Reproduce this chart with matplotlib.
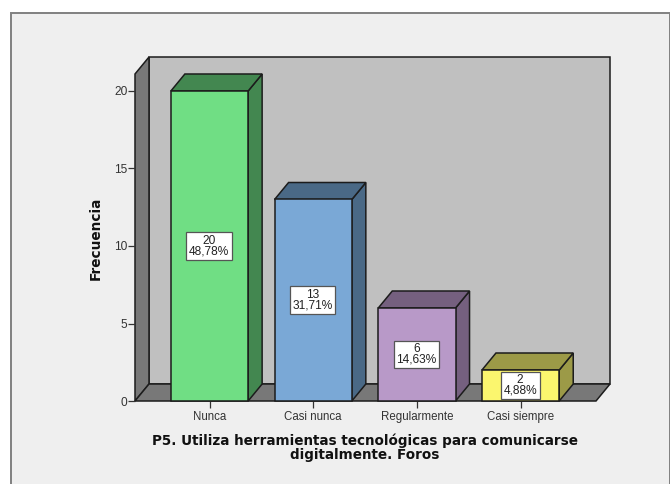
import matplotlib
matplotlib.use("Agg")
import matplotlib.pyplot as plt
from matplotlib.patches import Polygon, Rectangle

categories = ["Nunca", "Casi nunca", "Regularmente", "Casi siempre"]
counts = [20, 13, 6, 2]
percents = ["48,78%", "31,71%", "14,63%", "4,88%"]
front_colors = ["#70de84", "#7aa8d6", "#b899c8", "#fbf66e"]
top_colors = ["#438750", "#4a6986", "#75607f", "#9c9a47"]
side_colors = ["#438750", "#4a6986", "#75607f", "#9c9a47"]
y_ticks = [0, 5, 10, 15, 20]
title = "P5. Utiliza herramientas tecnológicas para comunicarse\ndigitalmente. Foros"

W, H = 670, 484
plt.rcParams["font.family"] = ["Liberation Sans", "DejaVu Sans"]
fig = plt.figure(figsize=(W / 100, H / 100), dpi=100, facecolor="white")

# outer panel
fig.add_artist(Rectangle((11 / W, -0.02), (669.5 - 11) / W, (H - 13) / H + 0.02,
                         transform=fig.transFigure, fc="#efefef", ec="#808080", lw=1.4, zorder=-1))

L, R, T, B = 135, 596, 74, 401
ax = fig.add_axes([L / W, (H - B) / H, (R - L) / W, (B - T) / H])
ax.patch.set_visible(False)
px_x = 103.7
px_y = 15.5
ax.set_xlim((L - 209.5) / px_x, (R - 209.5) / px_x)
ax.set_ylim(0, (B - T) / px_y)
x0, x1 = ax.get_xlim()
y0, y1 = ax.get_ylim()
dx = 14 / px_x
dy = 17 / px_y
EDGE = "#1c1c1c"


def poly(points, fc, z, lw=1.1):
    ax.add_patch(Polygon(points, closed=True, fc=fc, ec=EDGE, lw=lw, zorder=z,
                         clip_on=False, joinstyle="miter"))


# back wall, left wall, floor
poly([(x0 + dx, y0 + dy), (x1 + dx, y0 + dy), (x1 + dx, y1 + dy), (x0 + dx, y1 + dy)], "#c0c0c0", 1)
poly([(x0, y0), (x0 + dx, y0 + dy), (x0 + dx, y1 + dy), (x0, y1)], "#787878", 1.1)
poly([(x0, y0), (x1, y0), (x1 + dx, y0 + dy), (x0 + dx, y0 + dy)], "#787878", 1.2)

bw = 0.745
for i, (n, p) in enumerate(zip(counts, percents)):
    a, b = i - bw / 2, i + bw / 2
    poly([(b, 0), (b + dx, dy), (b + dx, n + dy), (b, n)], side_colors[i], 2)
    poly([(a, n), (b, n), (b + dx, n + dy), (a + dx, n + dy)], top_colors[i], 2)
    ax.bar(i, n, width=bw, color=front_colors[i], edgecolor=EDGE, linewidth=1.1, zorder=3, clip_on=False)
    ax.text(i - 0.005, n / 2, f"{n}\n{p}", ha="center", va="center", fontsize=8.6, color="#222222",
            linespacing=0.85, zorder=5, multialignment="center",
            bbox=dict(boxstyle="square,pad=0.22", fc="white", ec="#555555", lw=0.9))

for s in ["top", "right", "left", "bottom"]:
    ax.spines[s].set_visible(False)
ax.set_xticks(range(len(categories)))
ax.set_xticklabels(categories, fontsize=8.3, color="#333333")
ax.set_yticks(y_ticks)
ax.set_yticklabels([str(v) for v in y_ticks], fontsize=8.6, color="#333333")
ax.tick_params(axis="x", length=5, width=0.9, color="#333333", pad=2.5)
ax.tick_params(axis="y", length=5, width=0.9, color="#333333", pad=0.5)
ax.set_axisbelow(False)

fig.text(96 / W, 1 - 238 / H, "Frecuencia", rotation=90, ha="center", va="center",
         fontsize=9.8, fontweight="bold", color="#111111", family=["DejaVu Sans"])
fig.text(365 / W, 1 - 448 / H, title, ha="center", va="center", fontsize=9.75, fontweight="bold",
         color="#111111", linespacing=1.0, multialignment="center", family=["DejaVu Sans"])

fig.savefig("out.png", dpi=100, facecolor="white")
